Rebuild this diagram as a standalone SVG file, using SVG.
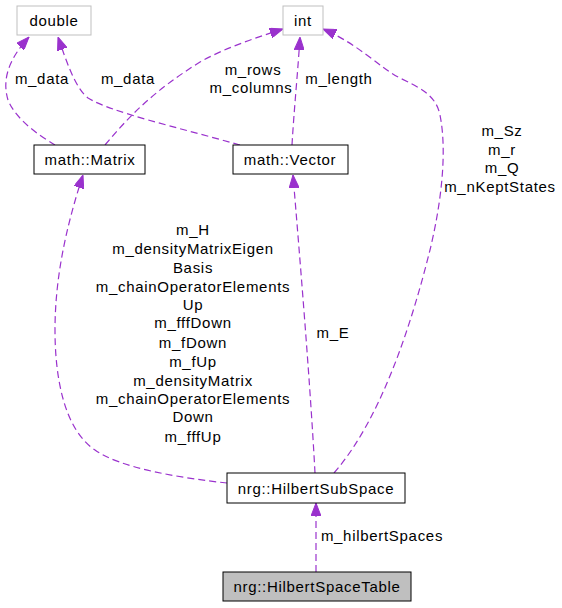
<svg xmlns="http://www.w3.org/2000/svg" width="562" height="608" viewBox="0 0 562 608">
<style>
text{font-family:"Liberation Sans",Arial,sans-serif;font-size:15px;letter-spacing:0.7px;fill:#000;text-anchor:middle}
.box{fill:#fff;stroke:#000;stroke-width:1}
.gbox{fill:#fff;stroke:#bfbfbf;stroke-width:1}
.sel{fill:#bfbfbf;stroke:#000;stroke-width:1}
.e{fill:none;stroke:#9a32cd;stroke-width:1.2;stroke-dasharray:7,4;marker-end:url(#ah)}
</style>
<defs>
<marker id="ah" viewBox="0 0 13 10" refX="13" refY="5" markerWidth="13" markerHeight="10" markerUnits="userSpaceOnUse" orient="auto">
<path d="M0,0 L13,5 L0,10 z" fill="#9a32cd" stroke="#9a32cd"/>
</marker>
</defs>
<rect width="562" height="608" fill="#fff"/>
<g id="edges">
<path class="e" d="M55,145 C40,136 16,120 8,100 C2,80 8,60 29,37"/>
<path class="e" d="M240,145 C180,128 110,112 88,98 C75,88 66,60 58,37"/>
<path class="e" d="M105,145 C130,115 155,90 200,62 C225,48 255,38 283,29"/>
<path class="e" d="M292,145 C294,110 298,70 300,37"/>
<path class="e" d="M334,473 C380,420 410,330 430,250 C442,200 447,150 440,115 C436,95 420,88 400,78 C380,68 360,45 323,29"/>
<path class="e" d="M227,483 C180,478 120,468 95,450 C65,430 55,380 55,330 C55,280 65,230 83,175"/>
<path class="e" d="M315,473 C310,380 300,260 293,175"/>
<path class="e" d="M316,572 L316,503"/>
</g>
<g id="labels">
<text x="42" y="84">m_data</text>
<text x="128" y="84">m_data</text>
<text x="253" y="75">m_rows</text>
<text x="251" y="93">m_columns</text>
<text x="339" y="84">m_length</text>
<text x="502" y="136">m_Sz</text>
<text x="502" y="155">m_r</text>
<text x="502" y="173">m_Q</text>
<text x="500" y="192">m_nKeptStates</text>
<text x="193" y="235">m_H</text>
<text x="193" y="254">m_densityMatrixEigen</text>
<text x="193" y="273">Basis</text>
<text x="193" y="292">m_chainOperatorElements</text>
<text x="193" y="310">Up</text>
<text x="193" y="328">m_fffDown</text>
<text x="193" y="348">m_fDown</text>
<text x="193" y="367">m_fUp</text>
<text x="193" y="386">m_densityMatrix</text>
<text x="193" y="404">m_chainOperatorElements</text>
<text x="193" y="422">Down</text>
<text x="193" y="442">m_fffUp</text>
<text x="333" y="338">m_E</text>
<text x="382" y="541">m_hilbertSpaces</text>
</g>
<g id="node-double"><rect class="gbox" x="17" y="6" width="74" height="29"/><text x="54" y="26">double</text></g>
<g id="node-int"><rect class="gbox" x="283" y="6" width="40" height="29"/><text x="303" y="26">int</text></g>
<g id="node-matrix"><rect class="box" x="34" y="145" width="111" height="29"/><text x="90" y="165">math::Matrix</text></g>
<g id="node-vector"><rect class="box" x="233" y="145" width="115" height="29"/><text x="290" y="165">math::Vector</text></g>
<g id="node-hilbertsubspace"><rect class="box" x="227" y="473" width="178" height="30"/><text x="316" y="494">nrg::HilbertSubSpace</text></g>
<g id="node-hilbertspacetable"><rect class="sel" x="223" y="572" width="188" height="29"/><text x="317" y="592">nrg::HilbertSpaceTable</text></g>
</svg>
